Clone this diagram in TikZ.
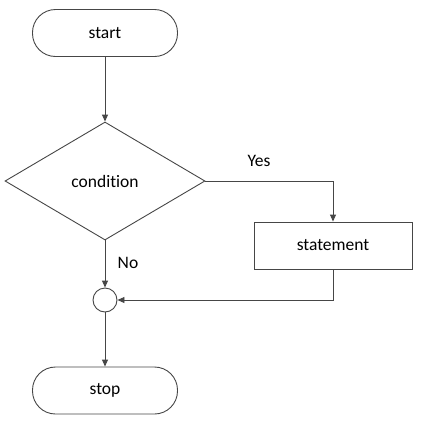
\documentclass[tikz,border=0pt]{standalone}
\usepackage{fontspec}
\setmainfont[Ligatures=NoCommon]{Carlito}
\usetikzlibrary{shapes.geometric,arrows.meta}
\definecolor{lc}{RGB}{70,70,70}
\tikzset{
  x=1pt,y=-1pt,
  every node/.style={font=\fontsize{17.5}{20}\selectfont, text=black},
  term/.style={draw=lc, line width=0.9pt, rectangle, rounded corners=23pt, minimum width=145pt, minimum height=47pt, inner sep=0},
  cond/.style={draw=lc, line width=0.9pt, diamond, minimum width=200pt, minimum height=118pt, inner sep=0},
  proc/.style={draw=lc, line width=0.9pt, rectangle, minimum width=158pt, minimum height=47pt, inner sep=0},
  junc/.style={draw=lc, line width=0.9pt, circle, minimum size=24pt, inner sep=0},
  conn/.style={draw=lc, line width=0.9pt, -{Triangle[length=7pt,width=6pt]}},
  lbl/.style={inner sep=0}
}
\begin{document}
\begin{tikzpicture}
\useasboundingbox (0,0) rectangle (422,429);
\node[term] (start) at (105,33) {start};
\node[cond] (cond) at (105,181) {condition};
\node[proc] (stmt) at (333,245.5) {statement};
\node[junc] (j) at (105,300) {};
\node[term] (stop) at (105,390.5) {stop};
\coordinate (c1) at (333,181);
\coordinate (c2) at (333,300);
\draw[conn] (start) -- (cond);
\draw[conn] (cond.east) -- (c1) -- (stmt.north);
\draw[conn] (stmt.south) -- (c2) -- (j.east);
\draw[conn] (cond.south) -- (j.north);
\draw[conn] (j.south) -- (stop.north);
\node[lbl] (yes) at (259,161) {Yes};
\node[lbl] (no) at (128,263) {No};
\end{tikzpicture}
\end{document}
